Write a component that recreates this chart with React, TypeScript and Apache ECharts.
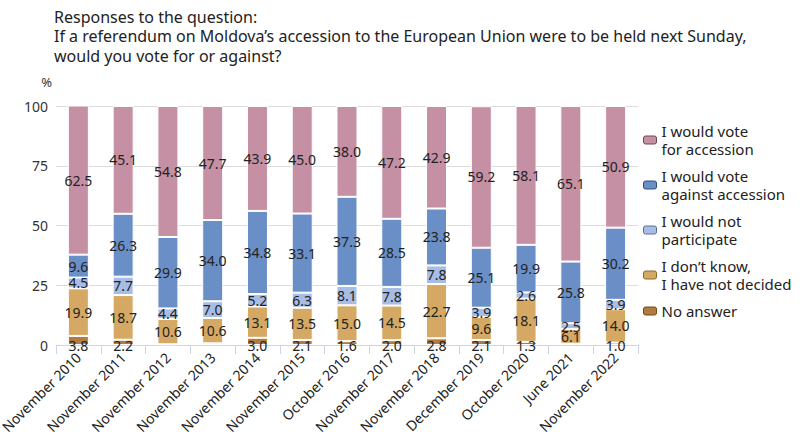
import React, { useEffect, useRef } from "react";
import * as echarts from "echarts";

const categories = [
  "November 2010", "November 2011", "November 2012", "November 2013", "November 2014",
  "November 2015", "October 2016", "November 2017", "November 2018", "December 2019",
  "October 2020", "June 2021", "November 2022",
];
const forAccession = [62.5, 45.1, 54.8, 47.7, 43.9, 45.0, 38.0, 47.2, 42.9, 59.2, 58.1, 65.1, 50.9];
const againstAccession = [9.6, 26.3, 29.9, 34.0, 34.8, 33.1, 37.3, 28.5, 23.8, 25.1, 19.9, 25.8, 30.2];
const notParticipate = [4.5, 7.7, 4.4, 7.0, 5.2, 6.3, 8.1, 7.8, 7.8, 3.9, 2.6, 2.5, 3.9];
const dontKnow = [19.9, 18.7, 10.6, 10.6, 13.1, 13.5, 15.0, 14.5, 22.7, 9.6, 18.1, 6.1, 14.0];
const noAnswer = [3.8, 2.2, 0.3, 0.7, 3.0, 2.1, 1.6, 2.0, 2.8, 2.1, 1.3, 0.5, 1.0];
const yTicks = [0, 25, 50, 75, 100];

const titleLines = [
  "Responses to the question:",
  "If a referendum on Moldova\u2019s accession to the European Union were to be held next Sunday,",
  "would you vote for or against?",
];

const seriesDefs = [
  { name: "No answer", legend: "No answer", data: noAnswer, color: "#b07c42", border: "#6e4a20" },
  { name: "I don\u2019t know, I have not decided", legend: "I don\u2019t know,\nI have not decided", data: dontKnow, color: "#d5a964", border: "#8a6a30" },
  { name: "I would not participate", legend: "I would not\nparticipate", data: notParticipate, color: "#a8bde5", border: "#5f7096" },
  { name: "I would vote against accession", legend: "I would vote\nagainst accession", data: againstAccession, color: "#6a8fc7", border: "#34507a" },
  { name: "I would vote for accession", legend: "I would vote\nfor accession", data: forAccession, color: "#c690a4", border: "#6e4a58" },
];

const FONT = "Noto Sans";

export default function App() {
  const ref = useRef<HTMLDivElement>(null);
  useEffect(() => {
    if (!ref.current) return;
    const chart = echarts.init(ref.current, null, { renderer: "svg" });
    const legendMap: Record<string, string> = {};
    seriesDefs.forEach((s) => (legendMap[s.name] = s.legend));
    chart.setOption({
      animation: false,
      title: {
        text: titleLines.join("\n"),
        left: 54,
        top: 7,
        padding: 0,
        textStyle: { fontFamily: FONT, fontSize: 16, fontWeight: "normal", color: "#222", lineHeight: 19.5 },
      },
      legend: {
        orient: "vertical",
        left: 638,
        top: 117,
        padding: 5,
        itemWidth: 13,
        itemHeight: 8,
        itemGap: 9,
        textStyle: { fontFamily: FONT, fontSize: 15, color: "#222", lineHeight: 18 },
        formatter: (n: string) => legendMap[n] || n,
        data: seriesDefs
          .slice()
          .reverse()
          .map((s) => ({ name: s.name, itemStyle: { color: s.color, borderColor: s.border, borderWidth: 1 } })),
      },
      grid: { left: 56, right: 171, top: 106, bottom: 92, containLabel: false, outerBoundsMode: "none" },
      xAxis: {
        type: "category",
        data: categories,
        axisLine: { lineStyle: { color: "#ccd6eb" } },
        axisTick: { show: true, length: 9, lineStyle: { color: "#ccd6eb" } },
        axisLabel: {
          rotate: 45,
          interval: 0,
          margin: 10,
          fontFamily: FONT,
          fontSize: 14,
          color: "#222",
        },
      },
      yAxis: {
        type: "value",
        min: 0,
        max: 100,
        interval: 25,
        name: "%",
        nameLocation: "end",
        nameGap: 18,
        nameTextStyle: { fontFamily: FONT, fontSize: 13, color: "#333", align: "right", padding: [0, 4, 0, 0] },
        axisLabel: {
          fontFamily: FONT,
          fontSize: 14,
          color: "#333",
          margin: 8,
          formatter: (v: number) => (yTicks.includes(v) ? String(v) : ""),
        },
        axisLine: { show: false },
        axisTick: { show: false },
        splitLine: { lineStyle: { color: "#dcdcdc" } },
      },
      series: seriesDefs.map((s, i) => ({
        name: s.name,
        type: "bar",
        stack: "total",
        barWidth: 21,
        data: s.data,
        itemStyle: { color: s.color, borderColor: "#ffffff", borderWidth: 1 },
        label: {
          show: true,
          position: i === 0 ? "bottom" : "inside",
          distance: i === 0 ? -7 : 5,
          fontFamily: FONT,
          fontSize: 14,
          color: "#222",
          formatter: (p: any) => (p.value >= 1 ? Number(p.value).toFixed(1) : ""),
        },
        emphasis: { disabled: true },
      })),
    });
    return () => chart.dispose();
  }, []);
  return <div ref={ref} style={{ position: "absolute", left: 0, top: 0, width: 809, height: 437 }} />;
}
